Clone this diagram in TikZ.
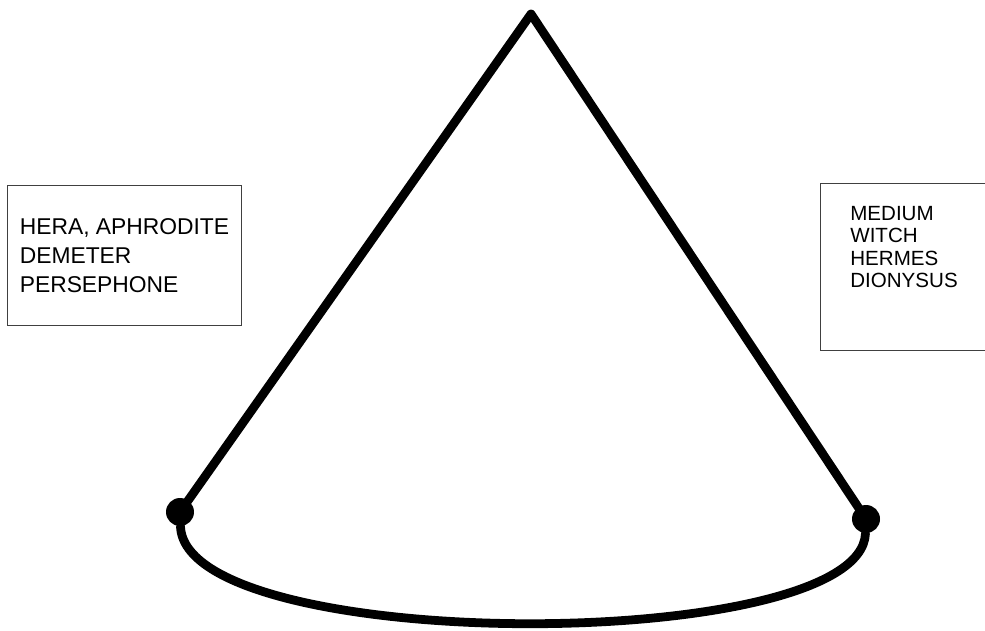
\documentclass[tikz,border=0pt]{standalone}
\usepackage{fontspec}
\setmainfont{Liberation Sans}
\usetikzlibrary{positioning}

\begin{document}
\begin{tikzpicture}[x=0.02cm,y=-0.02cm,
  edge/.style={line width=5pt,line cap=round,line join=round},
  dot/.style={circle,fill=black,inner sep=0pt,minimum size=0.56cm},
  namebox/.style={draw=black!75,line width=0.6pt,inner sep=0pt,align=left}]
  \useasboundingbox (0,0) rectangle (985,631);
  \clip (0,0) rectangle (985,631);
  \coordinate (apex) at (531,14);
  \node[dot] (ldot) at (180,512) {};
  \node[dot] (rdot) at (866,519) {};
  \draw[edge] (ldot.center) -- (apex) -- (rdot.center);
  \draw[edge] (ldot) .. controls (185,655) and (861,655) .. (rdot);
  \node[namebox,minimum width=4.68cm,minimum height=2.8cm,anchor=north west,
        font=\fontsize{13}{16.5}\selectfont] (goddesses) at (7,185)
        {HERA, APHRODITE\\DEMETER\\PERSEPHONE};
  \node[namebox,minimum width=3.6cm,minimum height=3.34cm,anchor=north west] (rbox) at (820,183) {};
  \node[font=\fontsize{11.7}{12.8}\selectfont,align=left,inner sep=0pt,anchor=north west]
        (mediators) at (850,206) {MEDIUM\\WITCH\\HERMES\\DIONYSUS};
\end{tikzpicture}
\end{document}
